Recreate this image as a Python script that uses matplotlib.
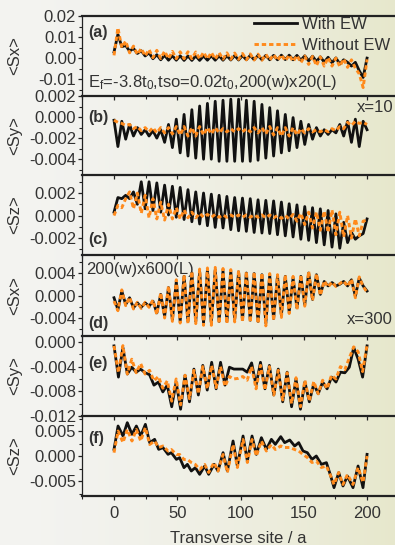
import numpy as np
import matplotlib
matplotlib.use("Agg")
import matplotlib.pyplot as plt
from matplotlib.ticker import MultipleLocator, FuncFormatter

plt.rcParams['font.family'] = ['Liberation Sans', 'DejaVu Sans']
plt.rcParams['mathtext.default'] = 'regular'

# ---- data (spin expectation values, in units of 1e-3) ----
# transverse site grids
site_ad = np.linspace(0, 200, 66)
site_e = np.linspace(0, 200, 58)
site_f = [0.0, 3.2, 7.1, 10.5, 14.2, 17.7, 21.1, 24.8, 28.2, 32.1,
          35.3, 38.7, 42.7, 45.3, 49.3, 51.9, 55.3, 58.0, 61.1, 64.3,
          67.7, 71.7, 74.8, 79.1, 82.2, 86.2, 89.6, 94.1, 97.5, 102.0,
          105.4, 109.1, 112.5, 116.5, 120.4, 124.4, 127.5, 131.8, 134.9, 138.9,
          142.8, 146.0, 149.4, 152.8, 156.5, 159.9, 163.9, 167.9, 171.3, 173.9,
          177.6, 181.0, 184.5, 188.9, 192.9, 196.8, 200.0]

# (a) <Sx>, 200(w)x20(L)
sx20_ew = [2.9, 11.3, 5.4, 6.0, 3.3, 4.6, 2.2, 3.5, 1.0, 2.5,
           -0.3, 1.6, -0.8, 1.3, -1.0, 1.1, -1.0, 1.1, -1.1, 1.0,
           -1.1, 1.0, -1.1, 1.0, -1.0, 1.1, -1.0, 1.1, -1.0, 1.1,
           -0.9, 1.2, -0.9, 1.2, -0.8, 1.3, -0.8, 1.3, -0.8, 1.3,
           -0.8, 1.3, -0.8, 1.4, -0.7, 1.4, -0.8, 1.3, -1.0, 1.1,
           -1.3, 0.9, -1.6, 0.6, -1.9, 0.4, -2.2, 0.1, -2.8, -0.8,
           -2.0, -3.8, -2.0, -6.0, -9.2, 0.0]
sx20_no = [1.3, 14.4, 4.9, 8.1, 2.5, 5.7, 1.7, 4.6, 1.0, 4.1,
           0.2, 3.7, -0.2, 3.3, -0.3, 3.2, -0.3, 3.0, -0.3, 3.0,
           -0.3, 2.9, -0.4, 2.8, -0.4, 2.7, -0.5, 2.6, -0.5, 2.5,
           -0.6, 2.4, -0.6, 2.2, -0.8, 2.0, -0.9, 1.9, -1.0, 1.8,
           -1.0, 1.7, -1.1, 1.6, -1.3, 1.5, -1.6, 1.3, -2.2, 1.0,
           -3.0, 0.8, -3.6, 0.6, -3.8, 0.3, -3.8, 0.0, -4.0, -0.3,
           -4.4, -0.8, -4.8, -7.5, -14.0, -0.6]

# (b) <Sy>, x=10
sy20_ew = [-0.3, -2.8, -0.4, -2.1, -0.7, -1.8, -1.0, -1.65, -1.2, -1.8,
           -1.3, -2.0, -1.2, -2.4, -0.7, -2.9, -0.2, -3.4, 0.25, -3.7,
           0.7, -3.9, 1.05, -4.0, 1.3, -4.0, 1.5, -4.2, 1.6, -4.2,
           1.7, -4.2, 1.7, -4.2, 1.6, -4.2, 1.5, -4.1, 1.2, -3.9,
           0.9, -3.7, 0.6, -3.4, 0.25, -3.2, -0.05, -2.9, -0.4, -2.6,
           -0.7, -2.1, -1.0, -1.8, -1.2, -1.65, -1.2, -1.5, -0.7, -1.8,
           -0.4, -2.4, -0.2, -2.8, -0.4, -1.2]
sy20_no = [-0.3, -0.5, -0.6, -0.8, -0.7, -1.1, -0.9, -1.3, -1.0, -1.4,
           -1.0, -1.5, -1.0, -1.5, -1.0, -1.6, -0.9, -1.7, -0.9, -1.8,
           -1.0, -1.8, -0.9, -1.7, -1.0, -1.6, -1.0, -1.5, -1.1, -1.4,
           -1.1, -1.4, -1.1, -1.4, -1.1, -1.4, -1.0, -1.5, -1.0, -1.6,
           -0.9, -1.7, -1.0, -1.8, -1.0, -1.8, -1.0, -1.7, -1.1, -1.5,
           -1.1, -1.4, -1.2, -1.4, -1.2, -1.4, -1.1, -1.3, -0.9, -1.1,
           -0.5, -0.8, -0.4, -0.6, -0.5, -0.7]

# (c) <Sz>
sz20_ew = [0.3, 1.6, 1.5, 1.8, 1.5, 2.1, 1.0, 3.0, 0.6, 3.0,
           0.45, 2.9, 0.3, 2.7, 0.05, 2.6, -0.15, 2.5, -0.35, 2.3,
           -0.55, 2.1, -0.75, 2.0, -0.9, 1.9, -1.05, 1.8, -1.1, 1.7,
           -1.25, 1.6, -1.35, 1.55, -1.4, 1.5, -1.5, 1.4, -1.55, 1.35,
           -1.6, 1.3, -1.7, 1.2, -1.8, 1.05, -1.9, 0.95, -2.1, 0.8,
           -2.2, 0.7, -2.4, 0.6, -2.6, 0.45, -2.8, 0.15, -2.9, -0.6,
           -2.4, -1.5, -2.1, -1.8, -1.6, -0.3]
sz20_no = [0.0, 0.9, 0.7, 1.5, 2.1, 0.6, 2.0, 0.2, 1.8, -0.2,
           1.5, -0.3, 1.2, -0.4, 1.0, -0.3, 0.7, -0.3, 0.5, -0.2,
           0.3, -0.2, 0.2, -0.15, 0.1, -0.15, 0.1, -0.15, 0.05, -0.15,
           0.05, -0.15, 0.05, -0.15, 0.05, -0.15, 0.05, -0.15, 0.05, -0.2,
           0.05, -0.2, 0.0, -0.25, 0.0, -0.3, 0.1, -0.5, 0.2, -0.8,
           0.3, -1.1, 0.3, -1.3, 0.4, -1.5, 0.5, -1.7, 0.3, -1.9,
           0.0, -2.0, -0.3, -1.8, -0.5, -0.4]

# (d) <Sx>, 200(w)x600(L), x=300
sx600_ew = [-0.4, -2.5, 0.8, -1.6, -0.4, -2.2, -1.3, -2.1, -1.3, -1.9,
            -1.0, -3.1, 0.2, -3.7, 1.4, -4.3, 2.5, -4.6, 3.4, -4.6,
            4.0, -4.6, 4.3, -4.9, 4.6, -4.9, 4.6, -4.6, 4.4, -4.6,
            4.3, -4.3, 4.2, -4.3, 4.0, -4.4, 3.9, -4.6, 3.7, -4.9,
            3.6, -4.1, 3.4, -3.5, 3.4, -2.9, 3.1, -2.2, 3.4, -1.6,
            4.0, -0.7, 3.7, 0.2, 2.5, 1.7, 2.3, 1.7, 2.0, 2.5,
            1.7, 2.8, -0.1, 3.1, 1.7, 0.8]
sx600_no = [-1.0, -2.7, 1.0, -1.8, -0.3, -2.4, -1.2, -2.3, -1.2, -2.1,
            -0.8, -3.4, 0.5, -4.0, 1.7, -4.6, 2.8, -4.9, 3.7, -5.0,
            4.3, -5.0, 4.7, -5.3, 4.9, -5.3, 5.0, -5.0, 4.8, -5.0,
            4.6, -4.7, 4.5, -4.7, 4.3, -4.8, 4.2, -5.0, 4.0, -5.4,
            3.9, -4.5, 3.7, -3.9, 3.7, -3.2, 3.4, -2.5, 3.7, -1.9,
            4.3, -0.9, 3.9, 0.0, 2.6, 1.5, 2.4, 1.6, 2.1, 2.6,
            1.6, 2.9, -0.4, 3.3, 1.6, 0.6]

# (e) <Sy>
sy600_ew = [-0.64, -5.7, -0.9, -5.2, -4.1, -4.9, -4.4, -5.0, -5.3, -7.0,
            -6.5, -8.1, -7.0, -10.5, -6.5, -10.9, -5.4, -9.7, -4.4, -8.6,
            -3.8, -7.8, -3.3, -7.6, -3.3, -7.0, -4.1, -4.4, -4.4, -4.4,
            -4.9, -3.4, -7.0, -3.3, -7.6, -3.8, -8.6, -4.4, -9.7, -4.9,
            -10.5, -6.0, -10.9, -6.5, -9.7, -6.8, -8.4, -6.5, -7.6, -5.7,
            -6.5, -4.9, -5.0, -4.1, -0.9, -2.8, -5.7, -0.64]
sy600_no = [-0.64, -5.0, -0.6, -5.2, -2.8, -5.0, -3.5, -5.2, -4.6, -6.3,
            -5.6, -7.5, -6.3, -9.6, -6.0, -10.2, -5.4, -9.2, -4.6, -8.4,
            -4.0, -7.6, -3.8, -7.4, -4.0, -7.2, -5.6, -6.0, -5.9, -5.6,
            -6.2, -4.0, -7.6, -3.8, -7.8, -4.0, -8.6, -4.6, -9.4, -5.0,
            -10.0, -5.8, -10.5, -6.2, -9.6, -6.4, -8.4, -6.2, -7.6, -5.4,
            -6.0, -4.0, -4.5, -2.6, -0.8, -1.6, -4.8, -0.5]

# (f) <Sz>
sz600_ew = [1.33, 6.0, 4.0, 6.67, 4.33, 6.0, 4.0, 6.33, 2.67, 3.33,
            1.33, 1.67, 0.33, 0.67, -0.67, -0.33, -2.33, -1.67, -3.0, -2.33,
            -3.67, -2.0, -3.67, -1.67, -3.0, 0.67, -3.0, 3.0, -2.0, 4.0,
            -1.0, 4.0, 0.33, 3.67, 1.33, 3.33, 2.33, 3.87, 2.67, 3.2,
            2.0, 2.67, 1.0, 0.67, -0.67, 0.0, -1.67, -1.33, -4.0, -6.33,
            -3.33, -6.0, -4.0, -6.33, -2.0, -6.33, 0.33]
sz600_no = [0.67, 5.0, 2.7, 5.3, 3.0, 5.3, 3.0, 5.7, 2.3, 3.0,
            1.7, 2.0, 1.0, 1.3, 0.3, 0.3, -0.7, -0.7, -1.3, -1.7,
            -2.7, -1.7, -3.3, -1.3, -3.0, 0.3, -3.3, 2.3, -2.3, 3.3,
            -1.3, 3.3, 0.0, 3.0, 1.0, 2.3, 1.3, 2.0, 1.7, 1.7,
            1.3, 1.0, 0.3, -0.3, -1.3, -1.0, -2.3, -2.0, -4.0, -5.7,
            -3.3, -5.7, -3.7, -5.7, -2.3, -5.3, 0.0]

panels = [
    ("(a)", "<Sx>", site_ad, sx20_ew, sx20_no),
    ("(b)", "<Sy>", site_ad, sy20_ew, sy20_no),
    ("(c)", "<Sz>", site_ad, sz20_ew, sz20_no),
    ("(d)", "<Sx>", site_ad, sx600_ew, sx600_no),
    ("(e)", "<Sy>", site_e, sy600_ew, sy600_no),
    ("(f)", "<Sz>", site_f, sz600_ew, sz600_no),
]

# ---- layout / style ----
W, H = 395, 545
edges = [16, 96, 175, 255, 336, 416, 496]
ylims = [(-18, 20), (-5.5, 2.0), (-3.5, 3.6), (-7.2, 7.2), (-12, 0.96), (-8, 8)]
ymajor = [10, 2, 2, 4, 4, 5]
decimals = [2, 3, 3, 3, 3, 3]
letter_y = [0.80, 0.73, 0.19, 0.15, 0.66, 0.725]
txt = '#333333'
orange = '#ff8a1c'

fig = plt.figure(figsize=(W / 100, H / 100), dpi=100)

# soft background gradient
bg = fig.add_axes([0, 0, 1, 1], zorder=-10)
t = np.linspace(0, 1, 400) ** 1.6
left_c = np.array([0.955, 0.955, 0.945])
right_c = np.array([0.905, 0.908, 0.800])
grad = left_c[None, :] * (1 - t[:, None]) + right_c[None, :] * t[:, None]
bg.imshow(grad[None, :, :], aspect='auto', extent=[0, 1, 0, 1])
bg.axis('off')


def make_fmt(d):
    def f(v, pos):
        s = f"{v / 1000:.{d}f}"
        if float(s) == 0:
            s = f"{0:.{d}f}"
        return s
    return FuncFormatter(f)


x0 = 82 / W
axes = []
for i, (letter, ylab, xs, ew, no) in enumerate(panels):
    top, bot = edges[i], edges[i + 1]
    ax = fig.add_axes([x0, 1 - bot / H, 1 - x0, (bot - top) / H])
    ax.set_facecolor('none')
    l1, = ax.plot(xs, ew, color='#111111', lw=2.0, label='With EW', zorder=3,
                  solid_joinstyle='round')
    l2, = ax.plot(xs, no, color=orange, lw=2.1, ls=(0, (1.5, 1.0)),
                  label='Without EW', zorder=4)
    ax.set_xlim(-25.3, 222.1)
    ax.set_ylim(*ylims[i])
    ax.xaxis.set_major_locator(MultipleLocator(50))
    ax.xaxis.set_minor_locator(MultipleLocator(25))
    ax.yaxis.set_major_locator(MultipleLocator(ymajor[i]))
    ax.yaxis.set_minor_locator(MultipleLocator(ymajor[i] / 2))
    ax.yaxis.set_major_formatter(make_fmt(decimals[i]))
    ax.spines['right'].set_visible(False)
    ax.spines['top'].set_visible(i == 0)
    ax.spines['top'].set_linewidth(1.6)
    ax.spines['bottom'].set_linewidth(1.6)
    ax.spines['left'].set_linewidth(0.9)
    for s in ax.spines.values():
        s.set_color('#222222')
    ax.tick_params(which='major', direction='out', length=3.2, width=0.9,
                   labelsize=12, labelcolor=txt, color='#222222', pad=1)
    ax.tick_params(which='minor', direction='out', length=2, width=0.8,
                   color='#222222')
    ax.tick_params(axis='x', which='both', top=False)
    ax.tick_params(axis='x', pad=4)
    if i < 5:
        ax.tick_params(axis='x', labelbottom=False)
    ax.set_ylabel(ylab, fontsize=12, color=txt)
    ax.yaxis.set_label_coords(-0.19, 0.5)
    ax.text(0.019, letter_y[i], letter, transform=ax.transAxes,
            fontsize=11.5, fontweight='bold', color=txt, va='center')
    axes.append(ax)
    if i == 0:
        ax.legend(handles=[l1, l2], loc='upper left',
                  bbox_to_anchor=(0.55, 0.985), frameon=False, fontsize=12,
                  handlelength=2.6, handletextpad=0.25, labelspacing=0.35,
                  borderpad=0, borderaxespad=0, labelcolor=txt)

axes[0].text(0.019, 0.11, r'E$_{f}$=-3.8t$_{0}$,tso=0.02t$_{0}$,200(w)x20(L)',
             transform=axes[0].transAxes, fontsize=12, color=txt, va='baseline')
axes[1].text(0.994, 0.85, 'x=10', transform=axes[1].transAxes, fontsize=12,
             color=txt, ha='right', va='center')
axes[3].text(0.013, 0.815, '200(w)x600(L)', transform=axes[3].transAxes,
             fontsize=12, color=txt, va='center')
axes[3].text(0.994, 0.2, 'x=300', transform=axes[3].transAxes, fontsize=12,
             color=txt, ha='right', va='center')
axes[5].set_xlabel('Transverse site / a', fontsize=12, color=txt, labelpad=7)

fig.savefig('out.png', dpi=100)
